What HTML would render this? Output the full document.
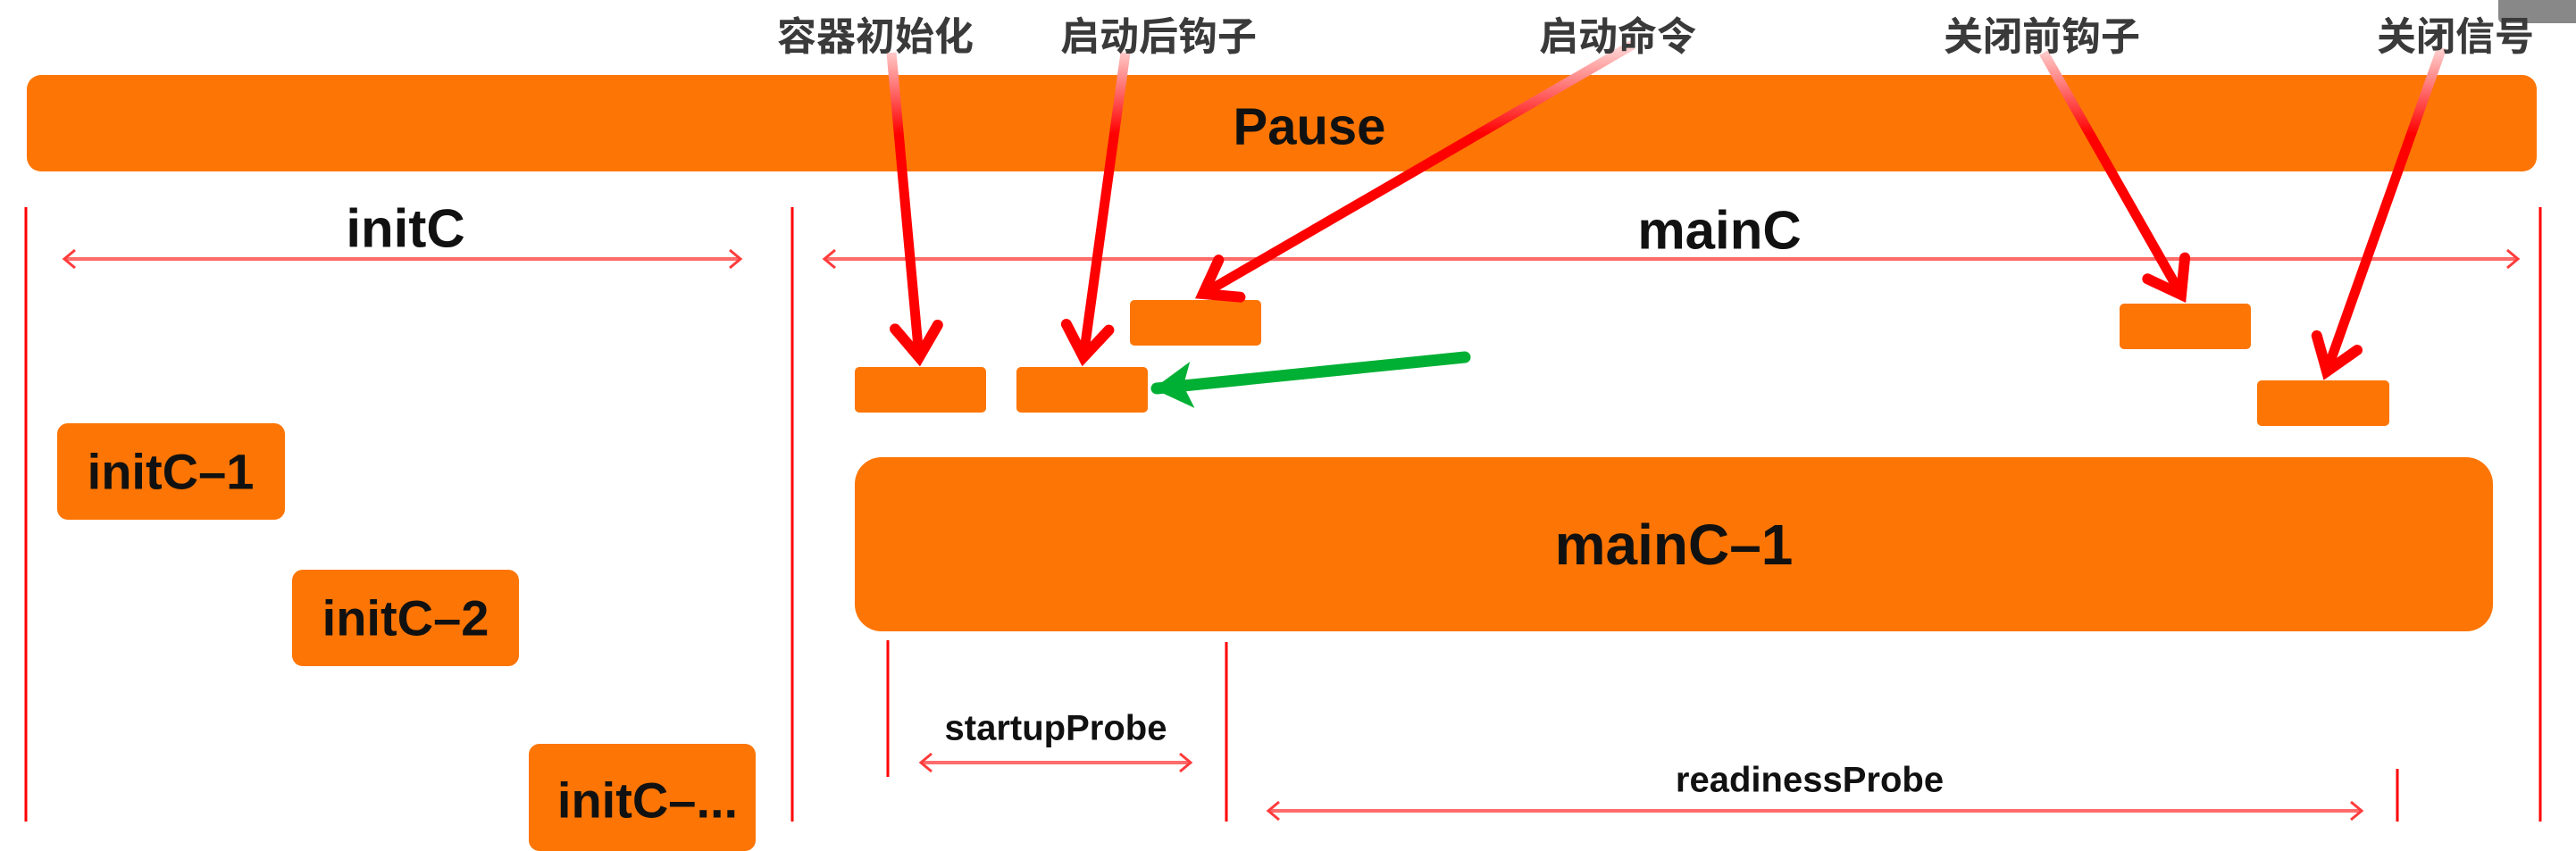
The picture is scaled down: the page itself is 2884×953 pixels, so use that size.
<!DOCTYPE html>
<html><head><meta charset="utf-8"><style>
html,body{margin:0;padding:0;background:#fff;}
body{width:2884px;height:920px;overflow:hidden;position:relative;font-family:"Liberation Sans","Noto Sans CJK SC",sans-serif;}
.b{position:absolute;background:#fd7504;}
.t{position:absolute;font-weight:bold;color:#111;white-space:nowrap;transform:translate(-50%,-50%);}
.z{position:absolute;font-weight:bold;color:#3a3a3a;white-space:nowrap;transform:translate(-50%,-50%);font-size:44px;font-family:"Noto Sans CJK SC",sans-serif;}
</style></head><body>
<div class="b" style="left:30px;top:84px;width:2810px;height:108px;border-radius:16px;"></div>
<div class="b" style="left:957px;top:512px;width:1834px;height:195px;border-radius:30px;"></div>
<div class="b" style="left:957px;top:411px;width:147px;height:51px;border-radius:5px;"></div>
<div class="b" style="left:1138px;top:411px;width:147px;height:51px;border-radius:5px;"></div>
<div class="b" style="left:1265px;top:336px;width:147px;height:51px;border-radius:5px;"></div>
<div class="b" style="left:2373px;top:340px;width:147px;height:51px;border-radius:5px;"></div>
<div class="b" style="left:2527px;top:426px;width:148px;height:51px;border-radius:5px;"></div>
<div class="b" style="left:64px;top:474px;width:255px;height:108px;border-radius:12px;"></div>
<div class="b" style="left:327px;top:638px;width:254px;height:108px;border-radius:12px;"></div>
<div class="b" style="left:592px;top:833px;width:254px;height:120px;border-radius:12px;"></div>
<div style="position:absolute;left:2797px;top:0;width:87px;height:26px;background:#888;border-radius:0 0 0 6px;"></div>

<svg width="2884" height="920" style="position:absolute;left:0;top:0">
<defs>
<marker id="o" markerUnits="userSpaceOnUse" markerWidth="30" markerHeight="30" refX="14" refY="12" orient="auto-start-reverse" viewBox="0 0 30 24">
<path d="M2 2 L14 12 L2 22" fill="none" stroke="#ff3b3b" stroke-width="3"/></marker>
<marker id="r" markerUnits="userSpaceOnUse" markerWidth="70" markerHeight="70" refX="40" refY="30" orient="auto" viewBox="0 0 70 60">
<path d="M6 6 L40 30 L6 54" fill="none" stroke="#ff0000" stroke-width="12" stroke-linecap="round" stroke-linejoin="miter"/></marker>
<marker id="g" markerUnits="userSpaceOnUse" markerWidth="70" markerHeight="70" refX="44" refY="30" orient="auto" viewBox="0 0 70 60">
<path d="M4 4 L48 30 L4 56 L14 30 Z" fill="#00b034"/></marker>
<linearGradient id="gr1" gradientUnits="userSpaceOnUse" x1="0" y1="55" x2="0" y2="150"><stop offset="0" stop-color="#ffd0d0"/><stop offset="1" stop-color="#ff0000"/></linearGradient>
</defs>
<g stroke="#ff0000" stroke-width="3">
<line x1="29" y1="232" x2="29" y2="920"/>
<line x1="887" y1="232" x2="887" y2="920"/>
<line x1="2844" y1="232" x2="2844" y2="920"/>
<line x1="994" y1="717" x2="994" y2="870"/>
<line x1="1373" y1="719" x2="1373" y2="920"/>
<line x1="2684" y1="861" x2="2684" y2="920"/>
</g>
<g stroke="#ff6b6b" stroke-width="4">
<line x1="72" y1="290" x2="829" y2="290" marker-start="url(#o)" marker-end="url(#o)"/>
<line x1="923" y1="290" x2="2819" y2="290" marker-start="url(#o)" marker-end="url(#o)"/>
<line x1="1031" y1="854" x2="1333" y2="854" marker-start="url(#o)" marker-end="url(#o)"/>
<line x1="1420" y1="908" x2="2644" y2="908" marker-start="url(#o)" marker-end="url(#o)"/>
</g>
<g stroke="url(#gr1)" stroke-width="11" fill="none">
<line x1="998" y1="59" x2="1029" y2="400" marker-end="url(#r)"/>
<line x1="1260" y1="59" x2="1213" y2="400" marker-end="url(#r)"/>
<line x1="1828" y1="50" x2="1347" y2="329" marker-end="url(#r)"/>
<line x1="2288" y1="59" x2="2442" y2="330" marker-end="url(#r)"/>
<line x1="2734" y1="53" x2="2605" y2="416" marker-end="url(#r)"/>
</g>
<line x1="1640" y1="400" x2="1295" y2="435" stroke="#00b034" stroke-width="13" stroke-linecap="round" marker-end="url(#g)"/>
</svg>

<div class="t" style="left:1466px;top:142px;font-size:58px;">Pause</div>
<div class="t" style="left:454px;top:256px;font-size:60px;">initC</div>
<div class="t" style="left:1925px;top:258px;font-size:60px;">mainC</div>
<div class="t" style="left:1874px;top:610px;font-size:64px;">mainC–1</div>
<div class="t" style="left:191px;top:528px;font-size:56px;">initC–1</div>
<div class="t" style="left:454px;top:692px;font-size:56px;">initC–2</div>
<div class="t" style="left:725px;top:896px;font-size:56px;">initC–...</div>
<div class="t" style="left:1182px;top:816px;font-size:40px;">startupProbe</div>
<div class="t" style="left:2026px;top:874px;font-size:40px;">readinessProbe</div>
<div class="z" style="left:980px;top:37px;">容器初始化</div>
<div class="z" style="left:1297px;top:37px;">启动后钩子</div>
<div class="z" style="left:1811px;top:37px;">启动命令</div>
<div class="z" style="left:2286px;top:37px;">关闭前钩子</div>
<div class="z" style="left:2749px;top:37px;">关闭信号</div>
</body></html>
